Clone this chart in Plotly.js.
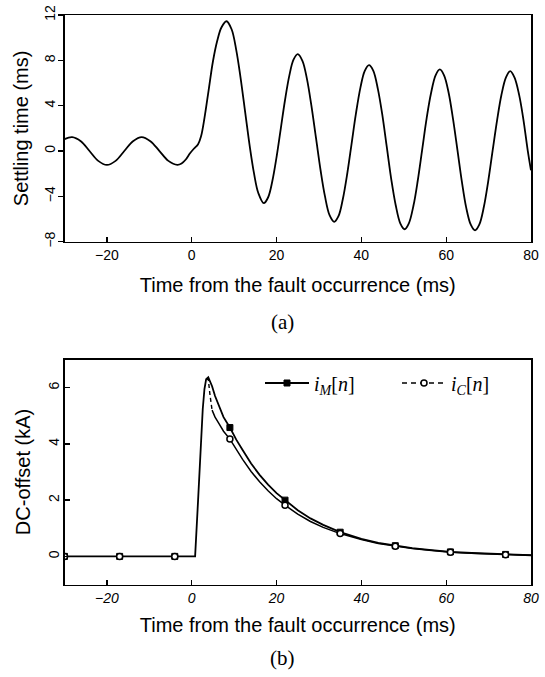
<!DOCTYPE html>
<html>
<head>
<meta charset="utf-8">
<script src="https://cdn.plot.ly/plotly-3.0.1.min.js"></script>
<style>html,body{margin:0;padding:0;background:#fff;}#chart{width:545px;height:677px;}</style>
</head>
<body>
<div id="chart"></div>
<script>
// ---- (a) settling time ----
const tSettle = [-30.0, -28.2, -26.15, -24.1, -22.05, -20.0, -17.95, -15.9, -13.85, -11.8, -9.75, -7.6, -5.5, -3.4,
  -2.4, -1.4, -0.4, 0.5, 1.5, 2.2, 3.0, 4.0, 5.0, 6.0, 7.0, 8.2,
  9.4, 10.5, 11.5, 12.6, 13.7, 14.7, 15.7, 17.0,
  18.0, 19.0, 20.0, 21.0, 22.0, 23.0, 24.0, 25.0,
  26.1, 27.2, 28.2, 29.3, 30.4, 31.4, 32.5, 33.6,
  34.6, 35.6, 36.7, 37.7, 38.7, 39.8, 40.8, 41.8,
  42.8, 43.9, 44.9, 46.0, 47.1, 48.1, 49.2, 50.2,
  51.2, 52.3, 53.3, 54.35, 55.4, 56.4, 57.5, 58.5,
  59.5, 60.6, 61.6, 62.65, 63.7, 64.7, 65.8, 66.8,
  67.8, 68.9, 69.9, 70.95, 72.0, 73.0, 74.1, 75.1,
  76.1, 77.2, 78.2, 79.25, 80.0];
const settleTime = [1.05, 1.23, 0.87, 0.0, -0.87, -1.23, -0.87, 0.0, 0.87, 1.23, 0.87, 0.0, -0.87, -1.22,
  -1.1, -0.75, -0.2, 0.2, 0.6, 1.3, 2.9, 5.4, 7.9, 9.7, 10.9, 11.45,
  10.74, 8.9, 6.5, 3.43, 0.36, -2.0, -3.7, -4.6,
  -4.1, -2.67, -0.54, 1.98, 4.5, 6.63, 8.06, 8.55,
  7.96, 6.3, 4.04, 1.15, -1.74, -3.96, -5.66, -6.25,
  -5.75, -4.3, -1.93, 0.66, 3.26, 5.64, 7.08, 7.58,
  7.1, 5.46, 3.29, 0.34, -2.61, -4.78, -6.4, -6.9,
  -6.38, -4.79, -2.6, 0.15, 2.9, 5.05, 6.68, 7.2,
  6.68, 5.1, 2.85, 0.1, -2.7, -4.95, -6.5, -7.0,
  -6.5, -4.9, -2.7, 0.03, 2.7, 4.9, 6.5, 7.05,
  6.5, 4.95, 2.8, 0.0, -1.7];

// ---- (b) DC-offset ----
const tDC = [-30, -17, -4, 0.8, 1.5, 2.0, 2.6, 3.0, 3.4, 3.9, 4.3, 4.8, 5.5, 6.5, 7.5, 9, 10.5, 12, 14, 16, 18, 20, 22,
  25, 28, 31, 35, 40, 44, 48, 52, 56, 61, 66, 70, 74, 77, 80];
const iM = [0, 0, 0, 0, 2.0, 3.5, 5.24, 5.95, 6.3, 6.37, 6.25, 6.05, 5.7, 5.3, 4.95, 4.58, 4.15, 3.78, 3.3, 2.9, 2.55, 2.25, 2.0,
  1.64, 1.35, 1.12, 0.86, 0.62, 0.48, 0.38, 0.29, 0.23, 0.16, 0.12, 0.09, 0.07, 0.05, 0.04];
const iC = [0, 0, 0, 0, 2.0, 3.5, 5.24, 5.95, 6.3, 6.3, 5.75, 5.2, 4.95, 4.7, 4.45, 4.17, 3.8, 3.45, 3.02, 2.65, 2.33, 2.05, 1.82,
  1.5, 1.24, 1.03, 0.81, 0.6, 0.46, 0.36, 0.28, 0.22, 0.15, 0.11, 0.08, 0.06, 0.05, 0.04];
const tMark = [-30, -17, -4, 9, 22, 35, 48, 61, 74];

const xTicks = [-20, 0, 20, 40, 60, 80];
const yTicksA = [-8, -4, 0, 4, 8, 12];
const yTicksB = [0, 2, 4, 6];

// marker-only points taken from the curves (gaps keep the legend line style)
function markPts(vals) {
  const x = [], y = [];
  tMark.forEach(function (t) {
    const i = tDC.indexOf(t);
    x.push(t, null); y.push(vals[i], null);
  });
  return {x: x, y: y};
}
const mM = markPts(iM), mC = markPts(iC);
// i_C: dashed just after the peak where it leaves i_M, dense (solid-looking) afterwards
const iPeak = tDC.indexOf(3.9), iSplit = tDC.indexOf(4.8);

const SANS = 'Liberation Sans, Arial, sans-serif';
const SERIF = 'Liberation Serif, Times New Roman, serif';

const traces = [
  {x: tSettle, y: settleTime, xaxis: 'x', yaxis: 'y', mode: 'lines', line: {color: '#000', width: 1.8, shape: 'spline', smoothing: 1}, showlegend: false, hoverinfo: 'skip'},
  {x: tDC, y: iM, xaxis: 'x2', yaxis: 'y2', mode: 'lines', line: {color: '#000', width: 1.8}, showlegend: false, hoverinfo: 'skip'},
  {x: tDC.slice(iPeak - 1, iSplit + 1), y: iC.slice(iPeak - 1, iSplit + 1), xaxis: 'x2', yaxis: 'y2', mode: 'lines',
   line: {color: '#000', width: 1.4, dash: '4px,3px'}, showlegend: false, hoverinfo: 'skip'},
  {x: tDC.slice(iSplit), y: iC.slice(iSplit), xaxis: 'x2', yaxis: 'y2', mode: 'lines', line: {color: '#000', width: 1.5}, showlegend: false, hoverinfo: 'skip'},
  {x: mM.x, y: mM.y, xaxis: 'x2', yaxis: 'y2', mode: 'lines+markers', connectgaps: false,
   name: '<i>i</i><sub><i>M</i></sub>[<i>n</i>]',
   line: {color: '#000', width: 1.8}, marker: {symbol: 'square', size: 6, color: '#000', line: {color: '#000', width: 1}}},
  {x: mC.x, y: mC.y, xaxis: 'x2', yaxis: 'y2', mode: 'lines+markers', connectgaps: false,
   name: '<i>i</i><sub><i>C</i></sub>[<i>n</i>]',
   line: {color: '#000', width: 1.4, dash: '5px,4px'}, marker: {symbol: 'circle', size: 6, color: '#fff', line: {color: '#000', width: 1.5}}}
];

const W = 545, H = 677;
const xDom = [64.5 / W, 531 / W];
const axCommon = {showgrid: false, zeroline: false, showline: true, mirror: true, linecolor: '#000', linewidth: 1.5,
  tickcolor: '#000', tickwidth: 1.3, ticklen: 5, tickmode: 'array'};

const layout = {
  width: W, height: H,
  margin: {l: 0, r: 0, t: 0, b: 0},
  paper_bgcolor: '#fff', plot_bgcolor: '#fff',
  showlegend: true,
  legend: {orientation: 'h', x: 260 / W, xanchor: 'left', y: 1 - 383 / H, yanchor: 'middle',
    font: {family: SERIF, size: 20, color: '#000'}, bgcolor: 'rgba(0,0,0,0)', borderwidth: 0,
    itemwidth: 44, entrywidth: 78, entrywidthmode: 'pixels', itemclick: false, itemdoubleclick: false},
  xaxis: Object.assign({}, axCommon, {domain: xDom, anchor: 'y', range: [-30, 80], tickvals: xTicks, ticks: 'inside',
    tickfont: {family: SANS, size: 14, color: '#000'}, ticklabelstandoff: 0,
    title: {text: 'Time from the fault occurrence (ms)', font: {family: SANS, size: 20, color: '#000'}, standoff: 16}}),
  yaxis: Object.assign({}, axCommon, {domain: [1 - 241.7 / H, 1 - 15 / H], anchor: 'x', range: [-8, 12], tickvals: yTicksA, ticks: 'outside',
    tickangle: -90, tickfont: {family: SANS, size: 14, color: '#000'}, ticklabelstandoff: -3,
    title: {text: 'Settling time (ms)', font: {family: SANS, size: 20, color: '#000'}, standoff: 8}}),
  xaxis2: Object.assign({}, axCommon, {domain: xDom, anchor: 'y2', range: [-30, 80], tickvals: xTicks, ticks: 'inside',
    tickfont: {family: SANS, size: 14, color: '#000', style: 'italic'}, ticklabelstandoff: 0,
    title: {text: 'Time from the fault occurrence (ms)', font: {family: SANS, size: 20, color: '#000'}, standoff: 13}}),
  yaxis2: Object.assign({}, axCommon, {domain: [1 - 584.5 / H, 1 - 359.5 / H], anchor: 'x2', range: [-1, 7], tickvals: yTicksB, ticks: 'inside',
    tickangle: -90, tickfont: {family: SANS, size: 14, color: '#000'}, ticklabelstandoff: -2,
    title: {text: 'DC-offset (kA)', font: {family: SANS, size: 20, color: '#000'}, standoff: 10}}),
  annotations: [
    {text: '(a)', xref: 'paper', yref: 'paper', x: 282 / W, y: 1 - 322 / H, xanchor: 'center', yanchor: 'middle', showarrow: false,
     font: {family: SERIF, size: 21, color: '#000'}},
    {text: '(b)', xref: 'paper', yref: 'paper', x: 282 / W, y: 1 - 658 / H, xanchor: 'center', yanchor: 'middle', showarrow: false,
     font: {family: SERIF, size: 21, color: '#000'}}
  ]
};

Plotly.newPlot('chart', traces, layout, {displayModeBar: false, staticPlot: true});
</script>
</body>
</html>
